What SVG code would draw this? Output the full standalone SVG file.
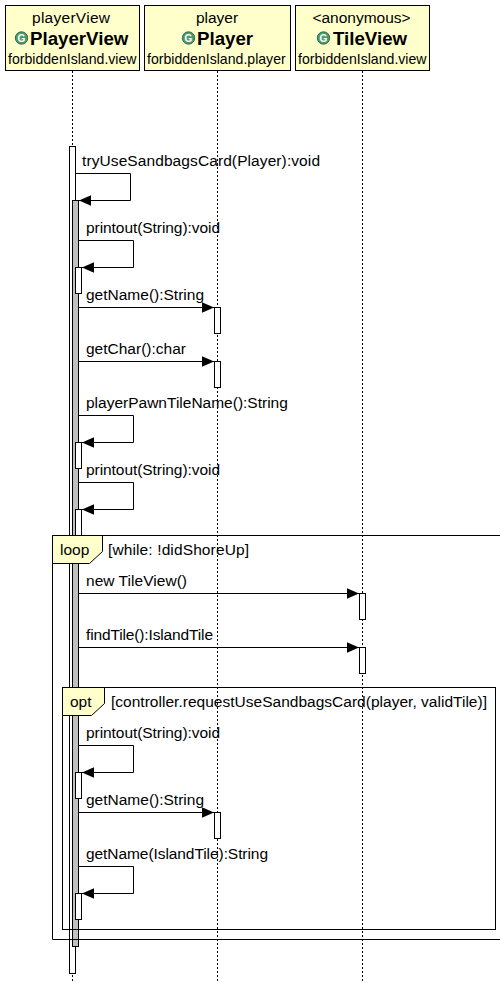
<svg xmlns="http://www.w3.org/2000/svg" width="500" height="983" viewBox="0 0 500 983">
<style>
text{font-family:"Liberation Sans",Arial,sans-serif;font-size:15.5px;fill:#000}
.head{fill:#ffffcc;stroke:#000;stroke-width:1}
.b{font-weight:bold;font-size:18.7px}
.s{font-size:14.1px}
.m{text-anchor:middle}
.life{stroke:#000;stroke-width:1;stroke-dasharray:2 2;fill:none}
.act{fill:#fff;stroke:#000;stroke-width:1}
.gray{fill:#c0c0c0;stroke:#000;stroke-width:1}
.msg{fill:none;stroke:#000;stroke-width:1}
.frame{fill:none;stroke:#000;stroke-width:1}
.tab{fill:#ffffcc;stroke:#000;stroke-width:1}
.c1{fill:#4d9a6a;stroke:#2f6f4a;stroke-width:1}
.c2{font-size:10px;font-weight:bold;fill:#fff;text-anchor:middle}
</style>
<defs>
<marker id="a" markerUnits="userSpaceOnUse" markerWidth="12" markerHeight="12" refX="12" refY="6" orient="auto"><path d="M0 0.8L12 6L0 11.2Z" fill="#000"/></marker>
</defs>
<g id="lifelines">
<line class="life" x1="72.5" y1="71" x2="72.5" y2="983"/>
<line class="life" x1="217.5" y1="71" x2="217.5" y2="983"/>
<line class="life" x1="362.5" y1="71" x2="362.5" y2="983"/>
</g>
<g id="node-playerView">
<rect class="head" x="5.5" y="5.5" width="134" height="65"/>
<text x="32" y="23" textLength="78">playerView</text>
<circle class="c1" cx="21.5" cy="38" r="6.2"/><text class="c2" x="21.5" y="41.5">G</text>
<text class="b" x="30" y="45">PlayerView</text>
<text class="s" x="8" y="64">forbiddenIsland.view</text>
</g>
<g id="node-player">
<rect class="head" x="144.5" y="5.5" width="146" height="65"/>
<text class="m" x="217" y="23">player</text>
<circle class="c1" cx="188.5" cy="38" r="6.2"/><text class="c2" x="188.5" y="41.5">G</text>
<text class="b" x="197" y="45">Player</text>
<text class="s" x="147" y="64">forbiddenIsland.player</text>
</g>
<g id="node-tileView">
<rect class="head" x="295.5" y="5.5" width="134" height="65"/>
<text class="m" x="361.5" y="23">&lt;anonymous&gt;</text>
<circle class="c1" cx="323.5" cy="38" r="6.2"/><text class="c2" x="323.5" y="41.5">G</text>
<text class="b" x="333" y="45">TileView</text>
<text class="s" x="298" y="64">forbiddenIsland.view</text>
</g>
<g id="activations">
<rect class="act" x="69.5" y="146.5" width="6" height="827"/>
<rect class="gray" x="72.5" y="200.5" width="6" height="746"/>
<rect class="act" x="75.5" y="267.5" width="6" height="26"/>
<rect class="act" x="75.5" y="442.5" width="6" height="26"/>
<rect class="act" x="75.5" y="509.5" width="6" height="26"/>
<rect class="act" x="75.5" y="772.5" width="6" height="26"/>
<rect class="act" x="75.5" y="893.5" width="6" height="26"/>
<rect class="act" x="214.5" y="307.5" width="6" height="26"/>
<rect class="act" x="214.5" y="361.5" width="6" height="26"/>
<rect class="act" x="214.5" y="812.5" width="6" height="26"/>
<rect class="act" x="359.5" y="593.5" width="6" height="26"/>
<rect class="act" x="359.5" y="647.5" width="6" height="26"/>
</g>
<g id="frame-loop">
<path class="frame" d="M500 535.5H52.5V939.5H500"/>
<path class="tab" d="M52.5 535.5H102.5V551.5L89.5 563.5H52.5Z"/>
<text x="60" y="555">loop</text>
<text x="108" y="555" textLength="141">[while: !didShoreUp]</text>
</g>
<g id="frame-opt">
<rect class="frame" x="62.5" y="687.5" width="433" height="242"/>
<path class="tab" d="M62.5 687.5H104.5V703.5L91.5 715.5H62.5Z"/>
<text x="70" y="707">opt</text>
<text x="111" y="707" textLength="376">[controller.requestUseSandbagsCard(player, validTile)]</text>
</g>
<g id="connectors">
<path class="msg" marker-end="url(#a)" d="M76 173.5H130.5V200.5H79"/>
<path class="msg" marker-end="url(#a)" d="M79 240.5H133.5V267.5H82"/>
<path class="msg" marker-end="url(#a)" d="M79 307.5H214"/>
<path class="msg" marker-end="url(#a)" d="M79 361.5H214"/>
<path class="msg" marker-end="url(#a)" d="M79 415.5H133.5V442.5H82"/>
<path class="msg" marker-end="url(#a)" d="M79 482.5H133.5V509.5H82"/>
<path class="msg" marker-end="url(#a)" d="M79 593.5H359"/>
<path class="msg" marker-end="url(#a)" d="M79 647.5H359"/>
<path class="msg" marker-end="url(#a)" d="M79 745.5H133.5V772.5H82"/>
<path class="msg" marker-end="url(#a)" d="M79 812.5H214"/>
<path class="msg" marker-end="url(#a)" d="M79 866.5H133.5V893.5H82"/>
</g>
<g id="labels">
<text x="82" y="166" textLength="238">tryUseSandbagsCard(Player):void</text>
<text x="86" y="233" textLength="134">printout(String):void</text>
<text x="86" y="300">getName():String</text>
<text x="86" y="354">getChar():char</text>
<text x="86" y="408">playerPawnTileName():String</text>
<text x="86" y="475" textLength="134">printout(String):void</text>
<text x="86" y="586" textLength="101">new TileView()</text>
<text x="86" y="640" textLength="127">findTile():IslandTile</text>
<text x="86" y="738" textLength="134">printout(String):void</text>
<text x="86" y="805">getName():String</text>
<text x="86" y="859" textLength="182">getName(IslandTile):String</text>
</g>
</svg>
